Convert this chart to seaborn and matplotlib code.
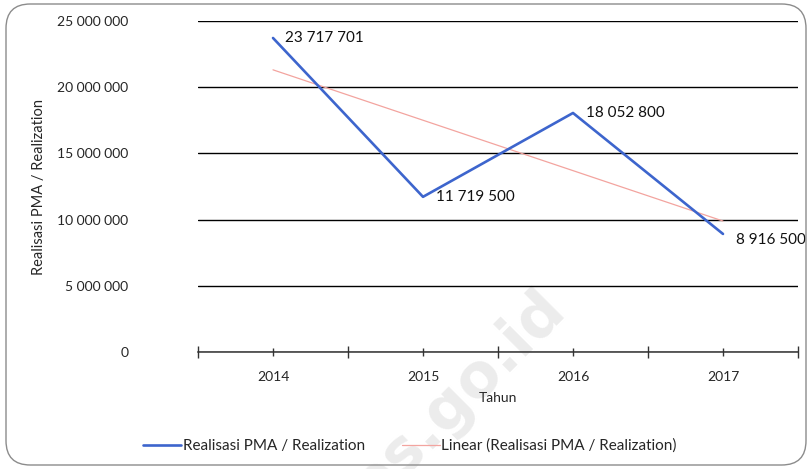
import numpy as np
import pandas as pd
import matplotlib
matplotlib.use('AGG')
import matplotlib.pyplot as plt
import seaborn as sns
from matplotlib.patches import FancyBboxPatch
from matplotlib.ticker import FuncFormatter, FixedLocator
from matplotlib.lines import Line2D

years = ['2014', '2015', '2016', '2017']
realisasi = [23717701, 11719500, 18052800, 8916500]
label_text = ['23 717 701', '11 719 500', '18 052 800', '8 916 500']

sns.set_theme(style='white')
plt.rcParams['font.family'] = ['Lato', 'DejaVu Sans']

BLUE = '#3d65cd'
RED = '#f3a49f'

df = pd.DataFrame({'Tahun': years, 'Realisasi': realisasi})
pos = np.arange(len(years))

fig = plt.figure(figsize=(8.1, 4.69), dpi=100)
ax = fig.add_axes([198 / 810, 1 - 352 / 469, 600 / 810, 331 / 469])
ax.patch.set_alpha(0)
ax.set_axisbelow(True)

# watermark, behind everything else (cut at the bottom edge like the source)
ax.text(442 / 810, 1 - 412 / 469, 'bps.go.id', transform=fig.transFigure, rotation=45,
        fontsize=44, fontweight='bold', color='#ececec', ha='center', va='center',
        zorder=0.1, clip_on=False, family='DejaVu Sans')

sns.lineplot(data=df, x='Tahun', y='Realisasi', ax=ax, color=BLUE,
             linewidth=1.9, zorder=4)

# linear trend
coef = np.polyfit(pos + 1, realisasi, 1)
trend = np.polyval(coef, pos + 1)
ax.plot(pos, trend, color=RED, linewidth=0.9, zorder=3)

offsets = [(0.08, 0.0), (0.09, 0.0), (0.09, 0.0), (0.09, -0.45e6)]
for i, (dx, dy) in enumerate(offsets):
    ax.text(pos[i] + dx, realisasi[i] + dy, label_text[i], fontsize=11,
            ha='left', va='center', color='#111111', zorder=5)

ax.set_xlim(-0.5, 3.5)
ax.set_ylim(0, 25000000)
ax.set_yticks(np.arange(0, 25000001, 5000000))
ax.yaxis.set_major_formatter(FuncFormatter(lambda v, p: f'{int(v):,}'.replace(',', ' ')))
ax.grid(axis='y', color='black', linewidth=1)
ax.grid(axis='x', visible=False)
for s in ['top', 'right', 'left']:
    ax.spines[s].set_visible(False)
ax.spines['bottom'].set_color('#333333')
ax.spines['bottom'].set_linewidth(1.1)
ax.spines['bottom'].set_zorder(6)

ax.set_xticks(pos)
ax.set_xticklabels(years)
ax.xaxis.set_minor_locator(FixedLocator(np.arange(-0.5, 4, 1)))
ax.tick_params(axis='x', which='major', direction='inout', length=6, width=1,
               color='#333333', labelsize=10, pad=11, bottom=True)
ax.tick_params(axis='x', which='minor', direction='inout', length=9, width=1,
               color='#333333', bottom=True)
ax.tick_params(axis='y', length=0, labelsize=10, pad=50)

ax.set_xlabel('Tahun', fontsize=10, labelpad=6)
ax.set_ylabel('Realisasi PMA / Realization', fontsize=10.5)
ax.yaxis.set_label_coords(-0.253, 0.5)

handles = [Line2D([], [], color=BLUE, linewidth=1.9),
           Line2D([], [], color=RED, linewidth=0.9)]
fig.legend(handles, ['Realisasi PMA / Realization', 'Linear (Realisasi PMA / Realization)'],
           loc='center', bbox_to_anchor=(0.506, 1 - 446 / 469), ncol=2, frameon=False,
           fontsize=11, handlelength=2.5, handletextpad=0.1, columnspacing=2.42)

border = FancyBboxPatch((6 / 810, 4 / 469), 800 / 810, 461 / 469,
                        boxstyle='round,pad=0,rounding_size=0.03',
                        transform=fig.transFigure, fill=False,
                        edgecolor='#8c8c8c', linewidth=1, mutation_aspect=810 / 469)
fig.patches.append(border)

fig.savefig('out.png', dpi=100)
plt.close(fig)
